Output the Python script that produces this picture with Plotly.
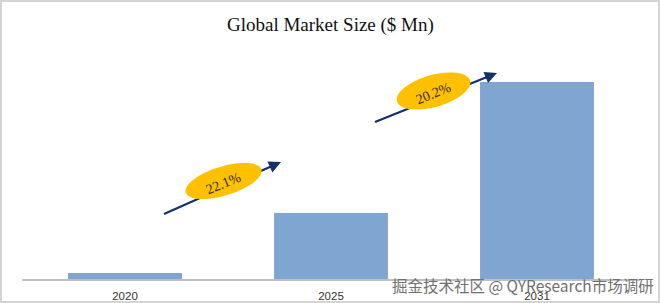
import math
import plotly.graph_objects as go

# ---- data ----
years = ["2020", "2025", "2031"]
market_size = [6, 66, 197]
cagr_labels = ["22.1%", "20.2%"]
title_text = "Global Market Size ($ Mn)"
watermark = "掘金技术社区 @ QYResearch市场调研"

W, H = 660, 303
ML, MR, MT, MB = 22, 20, 40, 24
PW, PH = W - ML - MR, H - MT - MB
YMAX = 239

def px_to_paper(x, y):
    return (x - ML) / PW, (H - MB - y) / PH

def ellipse_path(cx, cy, a, b, ang_deg, n=72):
    t = math.radians(ang_deg)
    pts = []
    for i in range(n):
        u = 2 * math.pi * i / n
        ex = a * math.cos(u)
        ey = b * math.sin(u)
        x = cx + ex * math.cos(t) + ey * math.sin(t)
        y = cy - ex * math.sin(t) + ey * math.cos(t)
        px, py = px_to_paper(x, y)
        pts.append(f"{px:.5f},{py:.5f}")
    return "M" + " L".join(pts) + " Z"

fig = go.Figure()
fig.add_trace(go.Bar(x=years, y=market_size, marker=dict(color="#7FA6D1", line=dict(width=0)),
                     width=0.553, hoverinfo="x+y"))

shapes = []
annotations = []

# frame border
x0, y0 = px_to_paper(1, H - 1)
x1, y1 = px_to_paper(W - 1, 1)
shapes.append(dict(type="rect", xref="paper", yref="paper", x0=x0, y0=y0, x1=x1, y1=y1,
                   line=dict(color="#D4D4D4", width=2), layer="below"))

ARROW = "#14306B"
# arrows + ellipses + CAGR labels
growth = [
    dict(start=(164, 214), end=(281, 162), ell=(223.5, 181, 39.5, 14.5, 17), txt=(223, 183)),
    dict(start=(375, 122), end=(497, 73), ell=(433.5, 91, 38, 16, 16), txt=(433, 93)),
]
for g, lab in zip(growth, cagr_labels):
    (sx, sy), (ex, ey) = g["start"], g["end"]
    L = math.hypot(ex - sx, ey - sy)
    # shaft (under the ellipse)
    psx, psy = px_to_paper(sx, sy)
    pex, pey = px_to_paper(ex - 6 * (ex - sx) / L, ey - 6 * (ey - sy) / L)
    shapes.append(dict(type="line", xref="paper", yref="paper", x0=psx, y0=psy, x1=pex, y1=pey,
                       line=dict(color=ARROW, width=2.2), layer="above"))
    cx, cy, a, b, ang = g["ell"]
    shapes.append(dict(type="path", xref="paper", yref="paper", path=ellipse_path(cx, cy, a, b, ang),
                       fillcolor="#FFC000", line=dict(width=0), layer="above"))
    # arrow head
    hx, hy = px_to_paper(ex, ey)
    annotations.append(dict(x=hx, y=hy, xref="paper", yref="paper",
                            ax=-(ex - sx) / L * 14, ay=-(ey - sy) / L * 14,
                            axref="pixel", ayref="pixel", showarrow=True, text="",
                            arrowhead=2, arrowsize=1.1, arrowwidth=2.2, arrowcolor=ARROW))
    tx, ty = px_to_paper(*g["txt"])
    annotations.append(dict(x=tx, y=ty, xref="paper", yref="paper", text=lab, showarrow=False,
                            xanchor="center", yanchor="middle", textangle=-22,
                            font=dict(family="Liberation Serif", size=14, color="#2A2A2A")))

# title
tx, ty = px_to_paper(330, 25)
annotations.append(dict(x=tx, y=ty, xref="paper", yref="paper", text=title_text, showarrow=False,
                        xanchor="center", yanchor="middle",
                        font=dict(family="Liberation Serif", size=19, color="#111111")))

# watermark
wx, wy = px_to_paper(656, 285)
annotations.append(dict(x=wx, y=wy, xref="paper", yref="paper", text=watermark, showarrow=False,
                        xanchor="right", yanchor="middle",
                        font=dict(family="Noto Sans CJK SC", size=15.5, color="#707070")))

fig.update_layout(
    width=W, height=H,
    margin=dict(l=ML, r=MR, t=MT, b=MB, pad=0, autoexpand=False),
    paper_bgcolor="white", plot_bgcolor="white",
    showlegend=False,
    shapes=shapes, annotations=annotations,
    xaxis=dict(type="category", showline=True, linecolor="#BFBFBF", linewidth=1.5,
               showgrid=False, zeroline=False, ticks="outside", ticklen=5,
               tickcolor="rgba(0,0,0,0)", automargin=False,
               tickfont=dict(family="Liberation Sans", size=11.5, color="#333333")),
    yaxis=dict(range=[0, YMAX], visible=False, showgrid=False, zeroline=False, automargin=False),
)

fig.write_html("out.html")
